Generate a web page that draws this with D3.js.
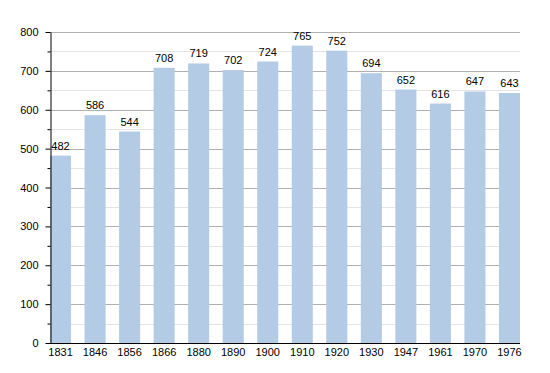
<!DOCTYPE html>
<html>
<head>
<meta charset="utf-8">
<script src="https://cdn.jsdelivr.net/npm/d3@7"></script>
<style>
body { margin: 0; background: #fff; }
text { font-family: "Liberation Sans", Arial, sans-serif; font-size: 11px; fill: #000; }
</style>
</head>
<body>
<svg width="550" height="373"></svg>
<script>
var years = ["1831", "1846", "1856", "1866", "1880", "1890", "1900", "1910", "1920", "1930", "1947", "1961", "1970", "1976"];
var population = [482, 586, 544, 708, 719, 702, 724, 765, 752, 694, 652, 616, 647, 643];
var yTicks = [0, 100, 200, 300, 400, 500, 600, 700, 800];

var svg = d3.select("svg"),
	plotLeft = 50, plotRight = 520, plotTop = 32, plotBottom = 343;

var x = d3.scaleBand()
	.domain(years)
	.range([plotLeft, plotRight])
	.paddingInner(0.39)
	.paddingOuter(0);

var y = d3.scaleLinear().domain([0, 800]).range([plotBottom, plotTop]);

// minor grid at 50s
svg.append("g").selectAll("line")
	.data(d3.range(50, 800, 100))
	.enter().append("line")
	.attr("x1", plotLeft).attr("x2", plotRight)
	.attr("y1", function(d) { return Math.round(y(d)) + 0.5; })
	.attr("y2", function(d) { return Math.round(y(d)) + 0.5; })
	.attr("stroke", "#e4e4e4");

// major grid
svg.append("g").selectAll("line")
	.data(yTicks.slice(1))
	.enter().append("line")
	.attr("x1", plotLeft).attr("x2", plotRight)
	.attr("y1", function(d) { return Math.round(y(d)) + 0.5; })
	.attr("y2", function(d) { return Math.round(y(d)) + 0.5; })
	.attr("stroke", "#b0b0b0");

svg.append("g").selectAll("rect")
	.data(population)
	.enter().append("rect")
	.attr("x", function(d, i) { return x(years[i]); })
	.attr("width", x.bandwidth())
	.attr("y", function(d) { return y(d); })
	.attr("height", function(d) { return plotBottom - y(d); })
	.attr("fill", "#b3cbe5");

svg.append("g").selectAll("text")
	.data(population)
	.enter().append("text")
	.attr("x", function(d, i) { return x(years[i]) + x.bandwidth() / 2; })
	.attr("y", function(d) { return y(d) - 6; })
	.attr("text-anchor", "middle")
	.text(function(d) { return d; });

// y axis with minor ticks
svg.append("g")
	.attr("transform", "translate(" + (plotLeft + 0.5) + ",0)")
	.call(d3.axisLeft(y).tickValues(d3.range(50, 800, 100)).tickSize(3).tickFormat(""))
	.call(function(g) { g.select(".domain").remove(); });

svg.append("g")
	.attr("transform", "translate(" + (plotLeft + 0.5) + ",0)")
	.call(d3.axisLeft(y).tickValues(yTicks).tickSize(5).tickPadding(7).tickSizeOuter(0));

var xAxis = svg.append("g")
	.attr("transform", "translate(0," + (plotBottom + 0.5) + ")")
	.call(d3.axisBottom(x).tickSize(0).tickPadding(5).tickSizeOuter(0));
xAxis.select(".domain").attr("d", "M" + plotLeft + ",0H" + plotRight);
</script>
</body>
</html>
